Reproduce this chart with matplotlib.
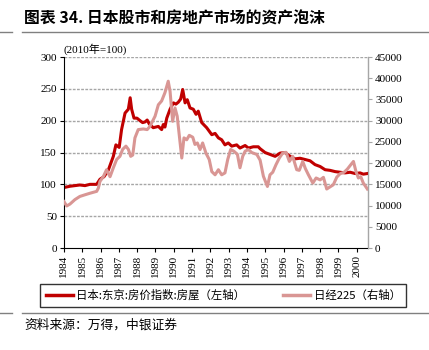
import matplotlib
matplotlib.use("Agg")
import matplotlib.pyplot as plt
from matplotlib.lines import Line2D

plt.rcParams['font.family'] = ['Liberation Serif', 'Noto Sans CJK SC', 'DejaVu Sans']

# Tokyo house price index (2010=100), left axis
house_t = [1984.0, 1984.33, 1984.6, 1984.87, 1985.15, 1985.42, 1985.79, 1985.97, 1986.19,
           1986.42, 1986.7, 1986.84, 1987.02, 1987.15, 1987.34, 1987.52, 1987.62, 1987.7,
           1987.83, 1987.99, 1988.16, 1988.3, 1988.43, 1988.55, 1988.66, 1988.88, 1989.16,
           1989.34, 1989.43, 1989.52, 1989.62, 1989.8, 1989.98, 1990.12, 1990.25, 1990.38,
           1990.49, 1990.62, 1990.74, 1990.89, 1991.07, 1991.22, 1991.34, 1991.53, 1991.8,
           1992.08, 1992.26, 1992.44, 1992.62, 1992.8, 1992.98, 1993.17, 1993.44, 1993.62,
           1993.9, 1994.08, 1994.35, 1994.62, 1994.72, 1994.99, 1995.26, 1995.54, 1995.81,
           1996.08, 1996.36, 1996.63, 1996.9, 1997.18, 1997.45, 1997.72, 1998.0, 1998.27,
           1998.54, 1998.82, 1999.09, 1999.36, 1999.64, 1999.91, 2000.18, 2000.36, 2000.58]
house_v = [95, 97, 98, 99, 98, 100, 100, 108, 112,
           122, 144, 162, 158, 186, 212, 218, 236, 218,
           204, 204, 200, 197, 198, 201, 195, 189, 191,
           186, 194, 190, 204, 218, 228, 226, 229, 234,
           249, 228, 233, 220, 218, 210, 215, 197, 189,
           178, 180, 173, 170, 162, 165, 160, 162, 157,
           161, 157, 159, 159, 156, 150, 147, 144, 149,
           150, 144, 140, 141, 139, 137, 131, 128, 123,
           122, 120, 119, 118, 119, 117, 118, 116, 117]

# Nikkei 225, right axis
nikkei_t = [1984.0, 1984.15, 1984.33, 1984.6, 1984.87, 1985.15, 1985.42, 1985.79, 1985.88,
            1985.97, 1986.15, 1986.33, 1986.52, 1986.7, 1986.88, 1987.06, 1987.21, 1987.39,
            1987.52, 1987.65, 1987.76, 1987.88, 1988.06, 1988.34, 1988.55, 1988.7, 1988.98,
            1989.16, 1989.34, 1989.52, 1989.7, 1989.8, 1989.94, 1990.07, 1990.19, 1990.3,
            1990.44, 1990.56, 1990.71, 1990.85, 1991.04, 1991.16, 1991.29, 1991.44, 1991.58,
            1991.76, 1991.94, 1992.08, 1992.26, 1992.44, 1992.62, 1992.8, 1992.95, 1993.11,
            1993.29, 1993.48, 1993.62, 1993.77, 1993.9, 1994.08, 1994.26, 1994.54, 1994.72,
            1994.9, 1995.12, 1995.26, 1995.41, 1995.59, 1995.77, 1995.96, 1996.14, 1996.32,
            1996.5, 1996.72, 1996.86, 1997.05, 1997.19, 1997.36, 1997.6, 1997.78, 1998.0,
            1998.18, 1998.36, 1998.54, 1998.72, 1998.91, 1999.09, 1999.31, 1999.49, 1999.68,
            1999.82, 1999.96, 2000.09, 2000.22, 2000.36, 2000.58]
nikkei_v = [10950, 9900, 10350, 11400, 12150, 12540, 12900, 13350, 14100,
            15700, 16800, 18450, 16800, 18900, 20850, 21600, 23250, 24000,
            23250, 21600, 21900, 25950, 27900, 28050, 27900, 28650, 31050,
            33750, 34650, 36600, 39300, 36900, 29850, 33000, 31050, 26700,
            21200, 25950, 25500, 26550, 26100, 24400, 24750, 23200, 24750,
            22350, 20850, 18000, 17250, 18450, 17250, 17700, 20850, 23200,
            22800, 22050, 18900, 21600, 22800, 23200, 22500, 22050, 20700,
            16900, 14500, 17250, 17850, 19650, 21200, 22400, 22550, 20400,
            21600, 18450, 18300, 20400, 18750, 17250, 15300, 16500, 16050,
            16650, 13900, 14400, 14900, 16700, 17500, 17850, 18600, 19650,
            20400, 18000, 16500, 16800, 15300, 13900]

years = list(range(1984, 2001))
left_ticks = [0, 50, 100, 150, 200, 250, 300]
right_ticks = list(range(0, 45001, 5000))

dark_red = '#C00000'
pink = '#D99694'
grey = '#A6A6A6'
cjk = ['Noto Sans CJK SC', 'DejaVu Sans']

fig = plt.figure(figsize=(4.29, 3.5), dpi=100)
ax = fig.add_axes([0.149, 0.2914, 0.709, 0.5457])
ax2 = ax.twinx()

ax.plot(house_t, house_v, color=dark_red, lw=2.2)
ax2.plot(nikkei_t, nikkei_v, color=pink, lw=2.2)

ax.set_xlim(1984, 2000.62)
ax.set_ylim(0, 300)
ax2.set_ylim(0, 45000)
ax.set_yticks(left_ticks)
ax2.set_yticks(right_ticks)
ax.set_xticks(years)
ax.set_xticklabels([str(y) for y in years], rotation=90)

for y in left_ticks[1:]:
    ax.axhline(y, color=grey, lw=1, ls=(0, (2, 1)), zorder=0)

ax.spines['top'].set_visible(False)
ax2.spines['top'].set_visible(False)
ax2.spines['left'].set_visible(False)
ax2.spines['bottom'].set_visible(False)
ax2.spines['right'].set_color(grey)
ax.tick_params(axis='both', labelsize=8, length=3, width=0.8, pad=2)
ax2.tick_params(axis='y', labelsize=8, length=3, width=0.8, color=grey, pad=2)

ax.text(0.0, 1.01, '(2010年=100)', transform=ax.transAxes, fontsize=8, va='bottom', ha='left')

handles = [Line2D([], [], color=dark_red, lw=2.5), Line2D([], [], color=pink, lw=2.5)]
labels = ['日本:东京:房价指数:房屋（左轴）', '日经225（右轴）']
leg = fig.legend(handles, labels, loc='center', bbox_to_anchor=(0.52, 0.156), ncol=2,
                 frameon=True, fancybox=False, edgecolor='black',
                 handlelength=2.4, columnspacing=3.3, borderpad=0.5, handletextpad=0.3,
                 prop={'family': cjk, 'size': 8.2})
leg.get_frame().set_linewidth(1.0)

fig.text(0.056, 0.948, '图表 34. 日本股市和房地产市场的资产泡沫', fontsize=11.4, fontweight='bold',
         family=cjk, va='center', ha='left')
fig.add_artist(Line2D([0.051, 1.0], [0.909, 0.909], color='#808080', lw=1))
fig.add_artist(Line2D([0.0, 0.028], [0.909, 0.909], color='#808080', lw=1))
fig.add_artist(Line2D([0.051, 1.0], [0.105, 0.105], color='#808080', lw=1))
fig.add_artist(Line2D([0.0, 0.028], [0.105, 0.105], color='#808080', lw=1))
fig.text(0.056, 0.07, '资料来源：万得，中银证券', fontsize=9.2,
         family=cjk, va='center', ha='left')

fig.savefig('out.png', dpi=100)
